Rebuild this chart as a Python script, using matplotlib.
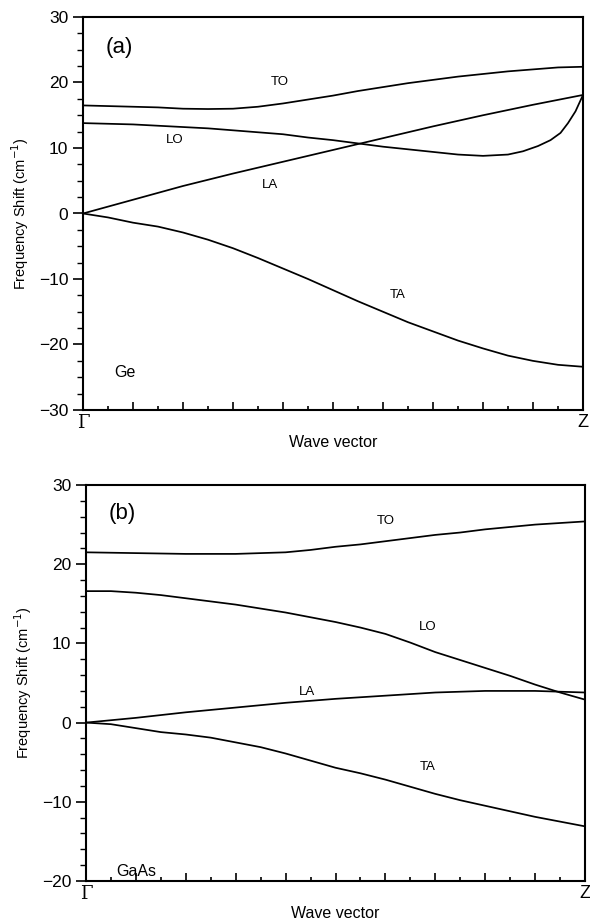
import numpy as np
import matplotlib
matplotlib.use("Agg")
import matplotlib.pyplot as plt
from matplotlib.ticker import MultipleLocator, FixedLocator

plt.rcParams['font.family'] = ['Liberation Sans', 'DejaVu Sans']

# ---- Panel (a): Ge ----
ge_to_x = [0, 0.05, 0.1, 0.15, 0.2, 0.25, 0.3, 0.35, 0.4, 0.45, 0.5, 0.55, 0.6, 0.65, 0.7, 0.75, 0.8, 0.85, 0.9, 0.95, 1.0]
ge_to_y = [16.5, 16.4, 16.3, 16.2, 16.0, 15.95, 16.0, 16.3, 16.8, 17.4, 18.0, 18.7, 19.3, 19.9, 20.4, 20.9, 21.3, 21.7, 22.0, 22.3, 22.4]
ge_lo_x = [0, 0.05, 0.1, 0.15, 0.2, 0.25, 0.3, 0.35, 0.4, 0.45, 0.5, 0.55, 0.6, 0.65, 0.7, 0.75, 0.8, 0.85, 0.88, 0.91, 0.935, 0.955, 0.97, 0.985, 1.0]
ge_lo_y = [13.8, 13.7, 13.6, 13.4, 13.2, 13.0, 12.7, 12.4, 12.1, 11.6, 11.2, 10.7, 10.2, 9.8, 9.4, 9.0, 8.8, 9.0, 9.5, 10.3, 11.2, 12.3, 13.8, 15.6, 18.1]
ge_la_x = [0, 0.1, 0.2, 0.3, 0.4, 0.5, 0.6, 0.7, 0.8, 0.9, 1.0]
ge_la_y = [0, 2.1, 4.2, 6.1, 7.9, 9.7, 11.5, 13.3, 15.0, 16.6, 18.1]
ge_ta_x = [0, 0.05, 0.1, 0.15, 0.2, 0.25, 0.3, 0.35, 0.4, 0.45, 0.5, 0.55, 0.6, 0.65, 0.7, 0.75, 0.8, 0.85, 0.9, 0.95, 1.0]
ge_ta_y = [0, -0.6, -1.4, -2.0, -2.9, -4.0, -5.3, -6.8, -8.4, -10.0, -11.7, -13.4, -15.0, -16.6, -18.0, -19.4, -20.6, -21.7, -22.5, -23.1, -23.4]

# ---- Panel (b): GaAs ----
gaas_to_x = [0, 0.1, 0.2, 0.3, 0.4, 0.45, 0.5, 0.55, 0.6, 0.65, 0.7, 0.75, 0.8, 0.85, 0.9, 0.95, 1.0]
gaas_to_y = [21.5, 21.4, 21.3, 21.3, 21.5, 21.8, 22.2, 22.5, 22.9, 23.3, 23.7, 24.0, 24.4, 24.7, 25.0, 25.2, 25.4]
gaas_lo_x = [0, 0.05, 0.1, 0.15, 0.2, 0.25, 0.3, 0.35, 0.4, 0.45, 0.5, 0.55, 0.6, 0.65, 0.7, 0.75, 0.8, 0.85, 0.9, 0.95, 1.0]
gaas_lo_y = [16.6, 16.6, 16.4, 16.1, 15.7, 15.3, 14.9, 14.4, 13.9, 13.3, 12.7, 12.0, 11.2, 10.1, 8.9, 7.9, 6.9, 5.9, 4.8, 3.8, 2.9]
gaas_la_x = [0, 0.1, 0.2, 0.3, 0.4, 0.5, 0.6, 0.7, 0.8, 0.9, 1.0]
gaas_la_y = [0, 0.6, 1.3, 1.9, 2.5, 3.0, 3.4, 3.8, 4.0, 4.0, 3.8]
gaas_ta_x = [0, 0.05, 0.1, 0.15, 0.2, 0.25, 0.3, 0.35, 0.4, 0.45, 0.5, 0.55, 0.6, 0.65, 0.7, 0.75, 0.8, 0.85, 0.9, 0.95, 1.0]
gaas_ta_y = [0, -0.2, -0.7, -1.2, -1.5, -1.9, -2.5, -3.1, -3.9, -4.8, -5.7, -6.4, -7.2, -8.1, -9.0, -9.8, -10.5, -11.2, -11.9, -12.5, -13.1]

x_end_labels = ['Γ', 'Z']
ylabel = 'Frequency Shift (cm$^{-1}$)'
xlabel = 'Wave vector'

fig = plt.figure(figsize=(5.9, 9.21), dpi=100)
ax1 = fig.add_axes([83/590, 1-410/921, 500/590, 393/921])
ax2 = fig.add_axes([86/590, 1-881/921, 499/590, 396/921])


def style(ax, ylim, ymajor, yminor):
    ax.set_xlim(0, 1)
    ax.set_ylim(*ylim)
    ax.yaxis.set_major_locator(MultipleLocator(ymajor))
    ax.yaxis.set_minor_locator(MultipleLocator(yminor))
    ax.xaxis.set_major_locator(FixedLocator(np.round(np.arange(0, 1.01, 0.1), 2)))
    ax.xaxis.set_minor_locator(FixedLocator(np.round(np.arange(0.05, 1.0, 0.1), 2)))
    labels = [''] * 11
    labels[0] = x_end_labels[0]
    labels[-1] = x_end_labels[1]
    ax.set_xticklabels(labels)
    tl = ax.get_xticklabels()
    tl[0].set_fontfamily('DejaVu Serif')
    ax.tick_params(axis='x', which='major', direction='in', length=6, width=1.2,
                   labelsize=13, pad=3)
    ax.tick_params(axis='x', which='minor', direction='in', length=3, width=1.2)
    ax.tick_params(axis='y', which='major', direction='out', length=7, width=1.2,
                   labelsize=12.5)
    ax.tick_params(axis='y', which='minor', direction='out', length=4, width=1.0)
    for s in ax.spines.values():
        s.set_linewidth(1.5)
    ax.set_ylabel(ylabel, fontsize=10.5, labelpad=6)
    ax.set_xlabel(xlabel, fontsize=11.5, labelpad=2)


lw = 1.25
for xs, ys in [(ge_to_x, ge_to_y), (ge_lo_x, ge_lo_y), (ge_la_x, ge_la_y), (ge_ta_x, ge_ta_y)]:
    ax1.plot(xs, ys, color='black', lw=lw)
style(ax1, (-30, 30), 10, 2.5)
fs = 9.5
ax1.text(0.045, 25.3, '(a)', fontsize=16, va='center', ha='left')
ax1.text(0.394, 20.1, 'TO', fontsize=fs, ha='center', va='center')
ax1.text(0.184, 11.2, 'LO', fontsize=fs, ha='center', va='center')
ax1.text(0.374, 4.4, 'LA', fontsize=fs, ha='center', va='center')
ax1.text(0.63, -12.4, 'TA', fontsize=fs, ha='center', va='center')
ax1.text(0.084, -24.2, 'Ge', fontsize=11.5, ha='center', va='center')

for xs, ys in [(gaas_to_x, gaas_to_y), (gaas_lo_x, gaas_lo_y), (gaas_la_x, gaas_la_y), (gaas_ta_x, gaas_ta_y)]:
    ax2.plot(xs, ys, color='black', lw=lw)
style(ax2, (-20, 30), 10, 2)
ax2.text(0.045, 26.4, '(b)', fontsize=16, va='center', ha='left')
ax2.text(0.6, 25.4, 'TO', fontsize=fs, ha='center', va='center')
ax2.text(0.685, 12.1, 'LO', fontsize=fs, ha='center', va='center')
ax2.text(0.443, 3.9, 'LA', fontsize=fs, ha='center', va='center')
ax2.text(0.685, -5.6, 'TA', fontsize=fs, ha='center', va='center')
ax2.text(0.1, -18.8, 'GaAs', fontsize=11.5, ha='center', va='center')

fig.savefig('out.png', dpi=100)
